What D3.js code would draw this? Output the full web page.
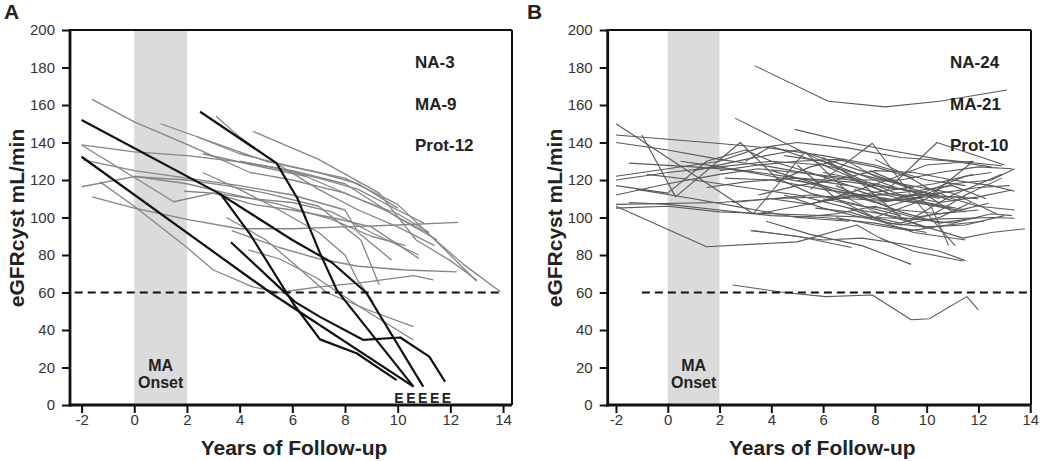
<!DOCTYPE html>
<html><head><meta charset="utf-8">
<script src="https://cdn.jsdelivr.net/npm/d3@7/dist/d3.min.js"></script>
<style>body{margin:0;background:#fff}svg{display:block;font-family:"Liberation Sans",Arial,sans-serif}</style>
</head><body><svg id="c" width="1050" height="461"></svg>
<script>
const xTicks=[-2,0,2,4,6,8,10,12,14];
const yTicks=[0,20,40,60,80,100,120,140,160,180,200];
const xLabel="Years of Follow-up";
const yLabel="eGFRcyst mL/min";
const panelLetters=["A","B"];
const groupLabelsA=["NA-3","MA-9","Prot-12"];
const groupLabelsB=["NA-24","MA-21","Prot-10"];
const onsetLabel=["MA","Onset"];
const onsetBand=[0,2];
const threshold=60;
const esrdX=[10.05,10.5,10.95,11.4,11.85];
const esrdText="E";

// Panel A: thick black trajectories (ESRD)
const aBlack=[
 [[-2,152],[3.2,113],[6,88],[7.5,76],[8.8,60],[10.97,9.8]],
 [[-2,132.4],[4.4,67.6],[5.2,59.6],[10.6,9.8]],
 [[2.5,156.4],[5.4,129],[6.2,110],[7.05,81],[7.7,61],[10.6,9.8]],
 [[3.67,86.8],[6.1,55],[7.05,47],[8.7,34.7],[10.1,36],[11.2,25.8],[11.8,12.4]],
 [[3.25,113],[4.4,91],[6.04,54],[7.05,35],[8.44,27.6],[9.96,13.3]]
];
// Panel A: thin grey trajectories
const aGray=[
 [[-1.6,163],[0,151],[2,139],[4.4,124],[6,120],[8,113],[9.5,104],[11.1,92],[12.5,75],[13.9,60.4]],
 [[4.5,146],[7,131],[9.3,113],[10.7,88],[12,77],[13,66.7]],
 [[-2,138.7],[0,135],[2,133],[4.4,129],[6,125],[8,118],[10,100],[11.5,88]],
 [[-2,138.7],[1.5,108.4],[3,113],[4.5,107],[6,104],[7.5,100],[9,95],[10.8,78.2]],
 [[-1.94,130.7],[0,125],[2,121],[4,117],[6,112],[8,104],[8.5,92],[9.77,77.3]],
 [[-2,116.4],[0,121.8],[2,120],[3.5,117],[5,113],[7,106],[8.6,88],[9.3,64]],
 [[-1.6,111],[0,105],[2,99],[4,94],[6,94],[8,95],[10,96],[12.3,97.4]],
 [[-1.3,119],[0,106],[2,84],[3,72],[4.5,63],[5.5,60],[7,63],[8.5,65],[10.6,69],[11.35,66.7]],
 [[2.4,143],[4,134],[6,127],[8,121],[10,107],[11.2,91],[13,66]],
 [[3.1,154],[4,143],[5.5,128],[7,115],[8.5,104],[10,95],[11.4,85]],
 [[2.6,134],[4.5,128],[6.5,122],[8.5,110],[10,102],[11.2,92]],
 [[4.0,130],[5.5,126],[7,121],[8.5,115],[10,104],[11,97]],
 [[1.9,114],[3,113],[4.5,110],[6,108],[7.5,103],[9,92],[10.8,80]],
 [[3.5,100],[5,88],[6,76],[7.3,60],[9,50],[10.6,41.8]],
 [[4.33,82.7],[5.5,78],[6.9,68],[8.6,52],[10.6,34.7]],
 [[2.6,124],[4,115],[5.5,104],[7,92],[8,80],[8.5,66],[9.07,55]],
 [[1,150],[3,140],[5,130],[7,124],[8.5,118],[10,105]],
 [[0,122],[2,118],[3.5,113],[5.5,107],[7.5,99],[9,90],[10.3,85]],
 [[3.7,93],[5.5,84],[7,78],[8.5,74],[10.3,72],[12.24,71]]
];
// Panel B trajectories
const bLines=[
 [[-2,150],[3.3,102],[5.3,135],[7,113],[8.5,106],[10,112],[11,103]],
 [[-2,144],[2,139.5],[4,137],[6,133],[8,128],[10,120],[11.5,117]],
 [[-2,140],[0,136],[2,131],[4,127],[6,122],[8,118],[10,112]],
 [[-2,122],[0,126],[2,130],[3.5,137],[5,140],[7,137],[9,132],[11,130],[12.5,127]],
 [[-2,120],[0,124],[2,127],[4,130],[6,128],[8,121],[9.5,116]],
 [[-2,117],[0,113],[1.5,130],[3,136],[4,130],[5.5,124],[7,117]],
 [[-2,112],[0,118],[2,123],[3.5,126],[5,124],[7,121],[8.5,113]],
 [[-2,107],[2,108],[4,110],[6,111],[8,112],[10,112],[12,110]],
 [[-2,105],[0,106],[2,103],[4,102],[6,101],[8,100],[10,99],[12.5,100],[13.4,99.6]],
 [[-2,106],[1.5,84.4],[5,87],[7.3,96],[8.2,89],[9.5,82],[11.4,76.8]],
 [[-1.5,129],[1,127],[3,125],[5,121],[7,117],[9,110],[11,105]],
 [[-1.5,108],[0,107],[2,104],[4,101],[6,100],[8,97],[10,92]],
 [[-1,144],[0.3,111],[2.8,140],[4.2,121],[5.5,113],[7,108],[9,101]],
 [[-1.2,115],[1,110],[3,105],[5,100],[7,98]],
 [[-0.8,123],[1,120],[3,116],[5,112],[7,105],[9,100],[10,94]],
 [[3.35,181],[6.2,162],[8.4,159],[10.5,162],[13.1,168]],
 [[2.5,64],[4.5,60],[6.1,57.8],[7.9,58.7],[9.4,45.5],[10.1,46],[11.55,57.8],[12,50.7]],
 [[2.6,153],[5.8,131],[8.8,116],[10.5,110]],
 [[4.9,147],[7,140],[8.5,136],[10.5,131],[12.9,127.6]],
 [[3.2,93],[5,90],[7.1,84]],
 [[3.8,98],[5.5,91],[7.5,85],[9.4,75]],
 [[5.5,115],[6.5,125],[7.9,139.6],[9.5,110],[11.1,85]],
 [[8.5,115],[10.4,140],[13,128]],
 [[8,100],[10,110],[11.8,130]],
 [[9.5,100],[11,112],[12.9,123]],
 [[1,125],[3,131],[5,136],[7,127],[9,118],[11,113],[12.7,102]],
 [[2.2,121],[4,120],[6,115],[8,111],[10,107],[11.5,103]],
 [[3,130],[4,138],[5.5,131],[7,122],[8.5,113],[10,108],[11.5,104]],
 [[4,125],[6,117],[8,103],[9.5,97],[11.4,89],[12.5,92],[13.8,94]],
 [[4.5,133],[6,130],[7.5,120],[9,112],[10.5,108],[12,111],[13.3,114.7]],
 [[5,120],[6.5,114],[8,108],[9.5,110],[11,118],[12.5,120],[13.4,126]],
 [[3.5,112],[5,117],[6.5,120],[8,125],[9.5,124],[11,120],[12.5,117],[13.4,114]],
 [[6,132],[7.5,118],[9,100],[11,97],[12.5,102],[13.3,101]],
 [[5,128],[6.5,110],[8,100],[9,97],[10.3,102],[11.5,112],[12.9,121]],
 [[4.5,112],[6,105],[7.5,100],[9,96],[10.5,100],[11.7,108]],
 [[6.5,117],[7.5,111],[9,103],[10.5,97],[12,100]],
 [[7,105],[8.5,97],[10,95],[11.5,96],[13,101]],
 [[5.7,105],[7,103],[8.2,98],[9.5,92],[11.5,88]],
 [[4,110],[5.5,107],[7,113],[8.5,120],[10,128],[11.8,130]],
 [[6,124],[7.5,120],[9,120],[10.5,124],[12,127],[13.3,126]],
 [[3.5,102],[5,106],[6.5,110],[8,112],[9.5,114],[11,117],[12.3,110]],
 [[7.8,125],[9.2,117],[10.2,105],[10.85,85]],
 [[5,100],[6.5,102],[8,106],[9.5,100],[11,103],[12.4,107.6]],
 [[2.5,108],[4,110],[5.5,112],[7,110],[8.5,109],[10,111],[11.5,111]],
 [[6,110],[7.5,106],[9,104],[10.5,102],[12,104]],
 [[5.8,108],[7.3,112],[8.8,115],[10.3,118],[11.8,123]],
 [[3.3,93],[6,88],[7.5,89],[9,86],[10.5,82],[11.5,77]],
 [[1.5,116],[3,119],[5,121],[7,119],[9,115],[10.5,112]],
 [[0.5,130],[2,127],[4,122],[6,117],[8,110],[9.7,108]],
 [[4.2,119],[5.5,127],[6.8,131],[8,122],[9.5,115],[11,109]],
 [[7.2,115],[8.5,109],[10,114],[11.5,122],[12.5,124]],
 [[8,131],[9,124],[10,116],[11,110],[12,106],[13.4,104]],
 [[2,125],[3.5,128],[5,130],[6.5,131],[8,127],[9.5,121]],
 [[6.5,100],[8,96],[9.4,93],[10.8,96],[12.2,98]],
 [[9,111],[10.5,113],[12,116],[13.2,117]]
];

const svg=d3.select("#c");
const yTop=30, yBot=405;

function panel(cfg){
  const g=svg.append("g");
  const x=d3.scaleLinear().domain(cfg.dom).range([cfg.x0,cfg.x1]);
  const y=d3.scaleLinear().domain([0,200]).range([yBot,yTop]);
  g.append("rect").attr("x",x(onsetBand[0])).attr("y",yTop)
   .attr("width",x(onsetBand[1])-x(onsetBand[0])).attr("height",yBot-yTop).attr("fill","#dbdbdb");
  onsetLabel.forEach((t,i)=>g.append("text").attr("x",x((onsetBand[0]+onsetBand[1])/2)).attr("y",371+i*16.5)
     .attr("text-anchor","middle").attr("font-size",16).attr("font-weight","bold").attr("fill","#222").text(t));
  const line=d3.line().x(d=>x(d[0])).y(d=>y(d[1]));
  cfg.gray.forEach(p=>g.append("path").attr("d",line(p)).attr("fill","none")
     .attr("stroke",cfg.grayColor).attr("stroke-width",cfg.grayW).attr("stroke-linejoin","round"));
  (cfg.black||[]).forEach(p=>g.append("path").attr("d",line(p)).attr("fill","none")
     .attr("stroke","#111").attr("stroke-width",2.2).attr("stroke-linejoin","round"));
  g.append("line").attr("x1",x(cfg.dashFrom)).attr("x2",x(cfg.dashTo)).attr("y1",y(threshold)).attr("y2",y(threshold))
   .attr("stroke","#111").attr("stroke-width",2.2).attr("stroke-dasharray","8,5");
  g.append("line").attr("x1",cfg.x0).attr("x2",cfg.x1).attr("y1",yTop).attr("y2",yTop).attr("stroke","#111").attr("stroke-width",2);
  g.append("line").attr("x1",cfg.x1).attr("x2",cfg.x1).attr("y1",yTop).attr("y2",yBot).attr("stroke","#111").attr("stroke-width",2);
  const ax=g.append("g").attr("transform",`translate(0,${yBot})`)
    .call(d3.axisBottom(x).tickValues(xTicks).tickSize(8).tickSizeOuter(0).tickPadding(1).tickFormat(d=>d<0?"-"+Math.abs(d):d));
  const ay=g.append("g").attr("transform",`translate(${cfg.x0},0)`)
    .call(d3.axisLeft(y).tickValues(yTicks).tickSize(8).tickSizeOuter(0).tickPadding(7));
  [ax,ay].forEach(a=>{
    a.select(".domain").attr("stroke","#111").attr("stroke-width",2.8);
    a.selectAll(".tick line").attr("stroke","#111").attr("stroke-width",2);
    a.selectAll(".tick text").attr("font-size",15).attr("fill","#333").attr("font-family","Liberation Sans, Arial, sans-serif");
  });
  ay.select(".domain").attr("d",`M0,${yTop-1}V${yBot+1.4}`);
  ax.select(".domain").attr("d",`M${cfg.x0-1.4},0H${cfg.x1}`);
  g.append("text").attr("x",(cfg.x0+cfg.x1)/2+3).attr("y",455).attr("text-anchor","middle")
   .attr("font-size",21).attr("font-weight","bold").attr("fill","#222").text(xLabel);
  g.append("text").attr("transform",`translate(${cfg.x0-46},218) rotate(-90)`).attr("text-anchor","middle")
   .attr("font-size",21).attr("font-weight","bold").attr("fill","#222").text(yLabel);
  g.append("text").attr("x",cfg.letterX).attr("y",19).attr("font-size",21).attr("font-weight","bold").attr("fill","#222").text(cfg.letter);
  cfg.labels.forEach((t,i)=>g.append("text").attr("x",cfg.lx).attr("y",68+i*41.7).attr("font-size",17)
     .attr("font-weight","bold").attr("fill","#222").text(t));
  return {g,x,y};
}

const A=panel({x0:70,x1:512,dom:[-2.44,14.34],gray:aGray,black:aBlack,grayColor:"#858585",grayW:1.3,
  dashFrom:-2.26,dashTo:14.0,letter:panelLetters[0],letterX:4,labels:groupLabelsA,lx:415});
esrdX.forEach(v=>A.g.append("text").attr("x",A.x(v)).attr("y",402.5).attr("text-anchor","middle")
  .attr("font-size",14).attr("font-weight","bold").attr("fill","#222").text(esrdText));
panel({x0:607.7,x1:1031,dom:[-2.32,14.03],gray:bLines,grayColor:"#5a5a5a",grayW:1.1,
  dashFrom:-1,dashTo:14.03,letter:panelLetters[1],letterX:527,labels:groupLabelsB,lx:950});
</script></body></html>
